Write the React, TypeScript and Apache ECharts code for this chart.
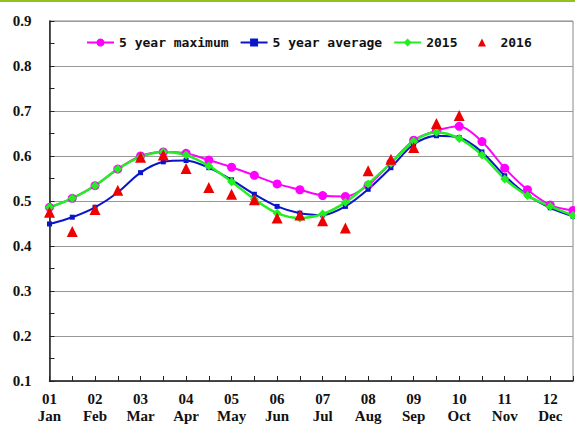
import React, { useEffect, useRef } from "react";
import * as echarts from "echarts";

const monthNums = ["01", "02", "03", "04", "05", "06", "07", "08", "09", "10", "11", "12"];
const monthNames = ["Jan", "Feb", "Mar", "Apr", "May", "Jun", "Jul", "Aug", "Sep", "Oct", "Nov", "Dec"];
const halfDays = ["01", "15"];

const yTicks = [0.1, 0.2, 0.3, 0.4, 0.5, 0.6, 0.7, 0.8, 0.9];

const fiveYearMax = [0.486, 0.506, 0.534, 0.571, 0.6, 0.609, 0.606, 0.591, 0.575, 0.557, 0.538, 0.525, 0.512, 0.51, 0.535, 0.585, 0.635, 0.656, 0.666, 0.632, 0.573, 0.525, 0.491, 0.479];
const fiveYearAvg = [0.449, 0.464, 0.486, 0.519, 0.563, 0.587, 0.59, 0.574, 0.547, 0.515, 0.488, 0.473, 0.469, 0.488, 0.526, 0.574, 0.626, 0.645, 0.641, 0.609, 0.556, 0.513, 0.485, 0.466];
const y2015 = [0.486, 0.506, 0.534, 0.571, 0.598, 0.609, 0.602, 0.578, 0.543, 0.504, 0.473, 0.462, 0.471, 0.497, 0.538, 0.584, 0.633, 0.653, 0.639, 0.602, 0.549, 0.512, 0.488, 0.468];
const y2016 = [0.475, 0.432, 0.481, 0.524, 0.597, 0.602, 0.572, 0.53, 0.515, 0.503, 0.462, 0.469, 0.456, 0.44, 0.567, 0.593, 0.619, 0.672, 0.69, null, null, null, null, null];

const categories: string[] = [];
monthNums.forEach((m) => halfDays.forEach((d) => categories.push(`${m}-${d}`)));

export default function App() {
  const ref = useRef<HTMLDivElement>(null);
  useEffect(() => {
    if (!ref.current) return;
    const chart = echarts.init(ref.current, null, { renderer: "svg" });
    const serif = "'Liberation Serif', 'Times New Roman', serif";
    const axisColor = "#222";
    chart.setOption({
      animation: false,
      backgroundColor: "#fff",
      graphic: [
        {
          type: "line",
          shape: { x1: 0, y1: 1, x2: 575, y2: 1 },
          style: { stroke: "#95c11f", lineWidth: 2 },
          silent: true,
        },
      ],
      grid: {
        left: 49.5,
        right: 2,
        top: 21,
        bottom: 42,
        show: true,
        borderColor: "#888",
        borderWidth: 1,
      },
      legend: {
        left: 86,
        top: 36,
        padding: 0,
        itemWidth: 27,
        itemHeight: 10,
        itemGap: 11,
        textStyle: {
          fontFamily: "'DejaVu Sans Mono', monospace",
          fontWeight: "bold",
          fontSize: 13,
          color: "#111",
        },
        data: ["5 year maximum", "5 year average", "2015", "2016"],
      },
      xAxis: {
        type: "category",
        data: categories,
        boundaryGap: false,
        axisLine: { show: true, lineStyle: { color: axisColor, width: 1.5 } },
        axisTick: { show: true, inside: true, length: 5, interval: 0, lineStyle: { color: axisColor } },
        splitLine: { show: false },
        axisLabel: {
          interval: 1,
          margin: 9,
          fontFamily: serif,
          fontWeight: "bold",
          fontSize: 15,
          lineHeight: 17.5,
          color: "#111",
          formatter: (_v: string, idx: number) => {
            const m = Math.floor(idx / 2);
            return `${monthNums[m]}\n${monthNames[m]}`;
          },
        },
      },
      yAxis: {
        type: "value",
        min: yTicks[0],
        max: yTicks[yTicks.length - 1],
        interval: 0.1,
        axisLine: { show: true, lineStyle: { color: axisColor, width: 1.5 } },
        axisTick: { show: true, inside: true, length: 5, lineStyle: { color: axisColor } },
        minorTick: { show: true, splitNumber: 2, length: 5, lineStyle: { color: axisColor } },
        splitLine: { show: true, lineStyle: { color: "#999", width: 1 } },
        axisLabel: {
          margin: 18,
          fontFamily: serif,
          fontWeight: "bold",
          fontSize: 15,
          color: "#111",
          formatter: (v: number) => v.toFixed(1),
        },
      },
      series: [
        {
          name: "5 year maximum",
          type: "line",
          data: fiveYearMax,
          smooth: 0.3,
          symbol: "circle",
          symbolSize: 9,
          itemStyle: { color: "#ff00ff" },
          lineStyle: { color: "#ff00ff", width: 2 },
        },
        {
          name: "5 year average",
          type: "line",
          data: fiveYearAvg,
          smooth: 0.3,
          symbol: "rect",
          symbolSize: 5,
          itemStyle: { color: "#0a14c8" },
          lineStyle: { color: "#0a14c8", width: 2 },
        },
        {
          name: "2015",
          type: "line",
          data: y2015,
          smooth: 0.3,
          symbol: "diamond",
          symbolSize: 9,
          itemStyle: { color: "#22ee22" },
          lineStyle: { color: "#22ee22", width: 2.5 },
        },
        {
          name: "2016",
          type: "line",
          data: y2016,
          showSymbol: true,
          symbol: "triangle",
          symbolSize: 11,
          itemStyle: { color: "#ee0000" },
          lineStyle: { width: 0, opacity: 0 },
        },
      ],
    });
    return () => chart.dispose();
  }, []);
  return (
    <div
      ref={ref}
      style={{ position: "fixed", left: 0, top: 0, width: 575, height: 425 }}
    />
  );
}
